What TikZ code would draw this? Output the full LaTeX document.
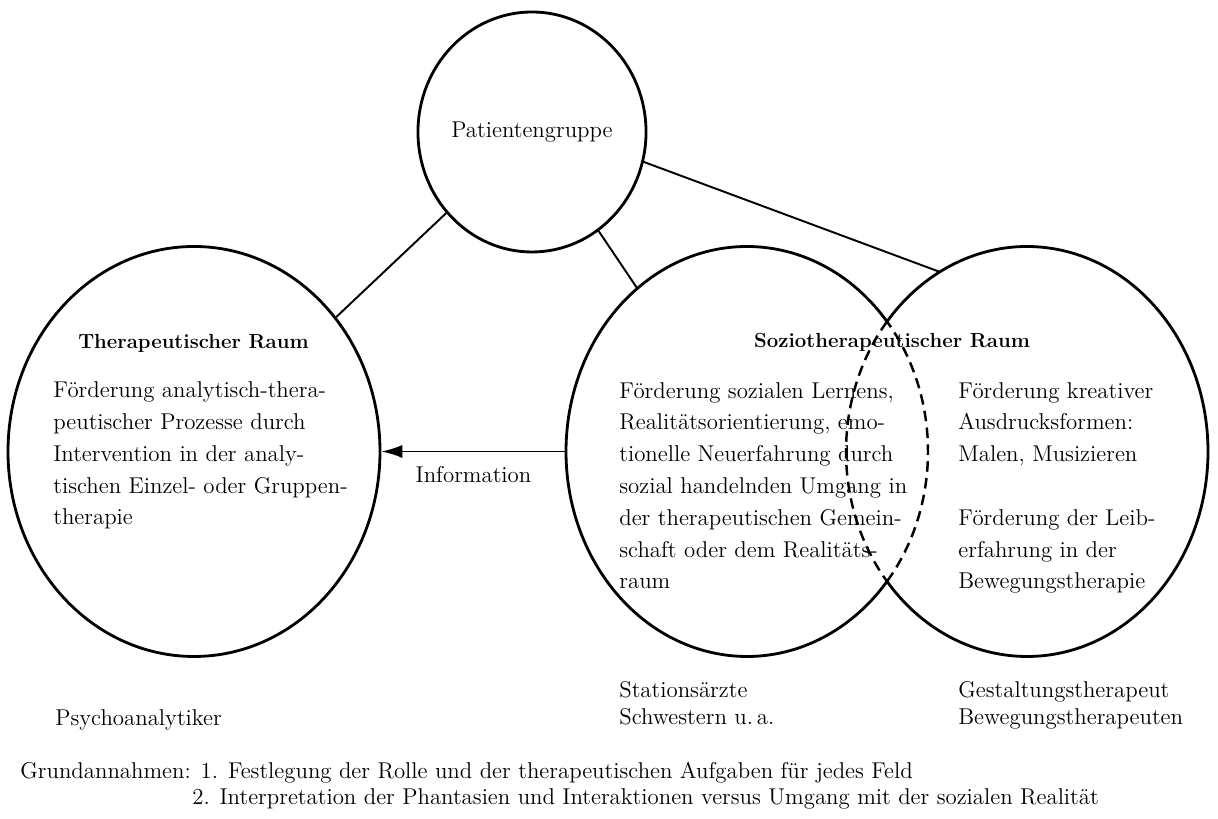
\documentclass[tikz,border=0pt]{standalone}
\usetikzlibrary{arrows.meta,positioning,shapes.geometric}

\begin{document}
\begin{tikzpicture}[>=Latex,font=\fontsize{13pt}{18.1pt}\selectfont,
 raum/.style={ellipse,minimum width=7.24cm,minimum height=8.2cm,inner sep=0pt},
 rand/.style={line width=1.6pt},
 grenze/.style={line width=1.4pt,dash pattern=on 6pt off 3.6pt},
 verb/.style={line width=1.1pt},
 kopf/.style={font=\fontsize{11.6pt}{14pt}\selectfont\bfseries,anchor=base,inner sep=0pt},
 txt/.style={align=left,anchor=base west,inner sep=0pt}]
\useasboundingbox (0,0) rectangle (24.36,16.38);
% Kreise
\node[ellipse,draw,rand,minimum width=4.28cm,minimum height=4.8cm,inner sep=0pt] (pat) at (10.64,13.74) {Patientengruppe};
\node[raum,draw,rand,minimum width=7.44cm] (ther) at (3.88,7.35) {};
\node[raum] (soz) at (14.94,7.35) {};
\node[raum] (gest) at (20.54,7.35) {};
% Ueberschneidung gestrichelt
\draw[rand] (soz.center) ++(39.3:3.62cm and 4.1cm) arc[start angle=39.3,end angle=320.7,x radius=3.62cm,y radius=4.1cm];
\draw[grenze] (soz.center) ++(-39.3:3.62cm and 4.1cm) arc[start angle=-39.3,end angle=39.3,x radius=3.62cm,y radius=4.1cm];
\draw[rand] (gest.center) ++(-140.7:3.62cm and 4.1cm) arc[start angle=-140.7,end angle=140.7,x radius=3.62cm,y radius=4.1cm];
\draw[grenze] (gest.center) ++(140.7:3.62cm and 4.1cm) arc[start angle=140.7,end angle=219.3,x radius=3.62cm,y radius=4.1cm];
% Verbindungen
\draw[verb] (pat) -- (ther);
\draw[verb] (pat) -- (soz);
\draw[verb] (pat.-15) -- (gest.116);
\draw[verb,-{Latex[length=12pt,width=7.5pt]}] (soz.west) -- node[below=4.5pt] (info) {Information} (ther.east);
% Texte (Anker: Grundlinie der letzten Zeile)
\node[kopf] (k1) at (3.87,9.40) {Therapeutischer Raum};
\node[txt] (t1) at (1.06,5.88) {Förderung analytisch-thera-\\peutischer Prozesse durch\\Intervention in der analy-\\tischen Einzel- oder Gruppen-\\therapie};
\node[kopf] (k2) at (17.84,9.42) {Soziotherapeutischer Raum};
\node[txt] (t2) at (12.38,4.60) {Förderung sozialen Lernens,\\Realitätsorientierung, emo-\\tionelle Neuerfahrung durch\\sozial handelnden Umgang in\\der therapeutischen Gemein-\\schaft oder dem Realitäts-\\raum};
\node[txt] (t3) at (19.16,4.60) {Förderung kreativer\\Ausdrucksformen:\\Malen, Musizieren\\[18.1pt]Förderung der Leib-\\erfahrung in der\\Bewegungstherapie};
\node[txt] (psy) at (1.10,1.86) {Psychoanalytiker};
\node[txt] (stat) at (12.38,1.88) {Stationsärzte\\[-2.2pt]Schwestern u.\,a.};
\node[txt] (ther2) at (19.16,1.88) {Gestaltungstherapeut\\[-2.2pt]Bewegungstherapeuten};
\node[txt] (ga) at (0.40,0.28) {Grundannahmen: 1. Festlegung der Rolle und der therapeutischen Aufgaben für jedes Feld\\[-2.8pt]\hspace*{3.44cm}2. Interpretation der Phantasien und Interaktionen versus Umgang mit der sozialen Realität};
\end{tikzpicture}
\end{document}
